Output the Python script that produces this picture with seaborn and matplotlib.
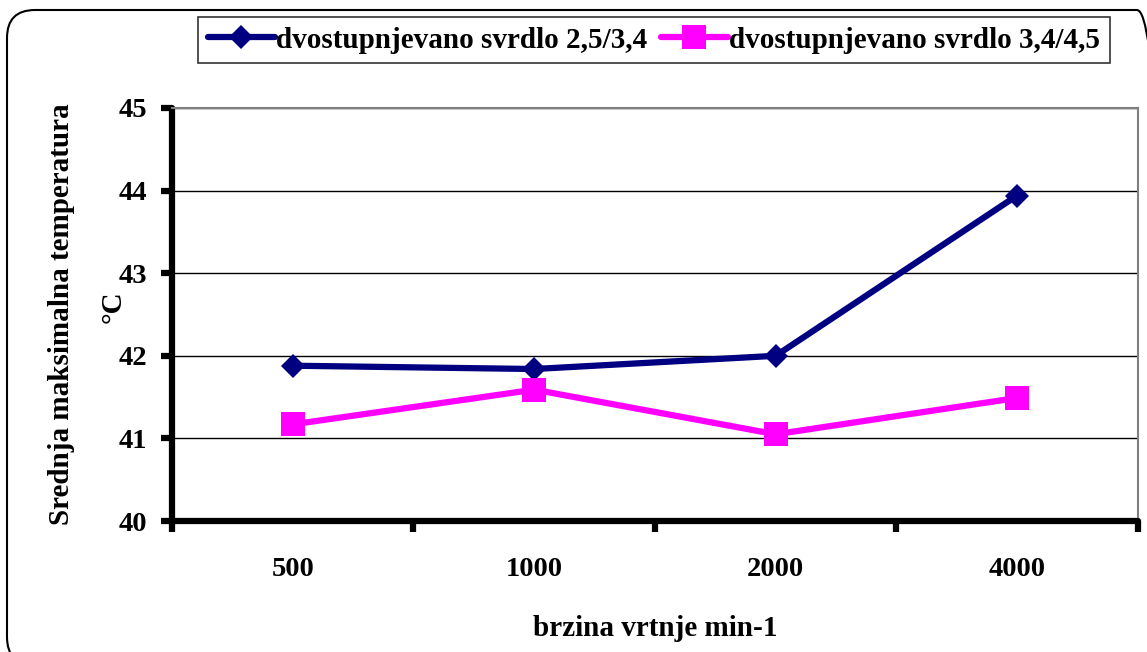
import matplotlib
matplotlib.use("Agg")
import matplotlib.pyplot as plt
from matplotlib.patches import FancyBboxPatch
from matplotlib.ticker import FixedLocator, NullFormatter, FixedFormatter
import seaborn as sns
import pandas as pd

# Rotation speed categories (min-1) and mean maximum temperatures (°C)
speeds = ["500", "1000", "2000", "4000"]
drill_25_34 = [41.88, 41.84, 42.00, 43.94]
drill_34_45 = [41.17, 41.59, 41.05, 41.49]
series_names = ["dvostupnjevano svrdlo 2,5/3,4", "dvostupnjevano svrdlo 3,4/4,5"]
y_ticks = [40, 41, 42, 43, 44, 45]

df = pd.DataFrame({
    "brzina": speeds * 2,
    "temperatura": drill_25_34 + drill_34_45,
    "svrdlo": [series_names[0]] * len(speeds) + [series_names[1]] * len(speeds),
})
df["pos"] = df["brzina"].map({s: i for i, s in enumerate(speeds)})

sns.set_theme(style="white")
plt.rcParams["font.family"] = ["Liberation Serif", "DejaVu Serif"]
plt.rcParams["font.weight"] = "bold"
plt.rcParams["text.color"] = "black"
plt.rcParams["axes.labelcolor"] = "black"
plt.rcParams["xtick.color"] = "black"
plt.rcParams["ytick.color"] = "black"

fig = plt.figure(figsize=(11.47, 6.52), dpi=100)
ax = fig.add_axes([0.15, 0.2009, 0.842, 0.6335])

styles = [
    dict(color="#000080", marker="D", markersize=12.5),
    dict(color="#FF00FF", marker="s", markersize=17.5),
]
for name, st in zip(series_names, styles):
    sub = df[df["svrdlo"] == name]
    sns.lineplot(data=sub, x="pos", y="temperatura", ax=ax, label=name,
                 color=st["color"], marker=st["marker"],
                 markersize=st["markersize"], markeredgewidth=0,
                 linewidth=4.5, sort=False, zorder=3)

ax.set_xlim(-0.5, len(speeds) - 0.5)
ax.set_ylim(y_ticks[0], y_ticks[-1])

# category boundaries carry the tick marks, category centres carry the labels
ax.xaxis.set_major_locator(FixedLocator([i - 0.5 for i in range(len(speeds) + 1)]))
ax.xaxis.set_major_formatter(NullFormatter())
ax.xaxis.set_minor_locator(FixedLocator(list(range(len(speeds)))))
ax.xaxis.set_minor_formatter(FixedFormatter(speeds))
ax.tick_params(axis="x", which="major", direction="out", length=8, width=4.5,
               color="black", bottom=True)
ax.tick_params(axis="x", which="minor", length=0, pad=26, labelsize=20.5,
               labelcolor="black", bottom=True)

ax.set_yticks(y_ticks)
ax.tick_params(axis="y", direction="out", length=8, width=4.5, color="black",
               pad=10, labelsize=20.5, labelcolor="black", left=True)

ax.grid(axis="y", color="black", linewidth=1.0)
ax.grid(axis="x", visible=False)
ax.set_axisbelow(True)

for side in ("left", "bottom"):
    ax.spines[side].set_color("black")
    ax.spines[side].set_linewidth(4.5)
    ax.spines[side].set_capstyle("round")
for side in ("top", "right"):
    ax.spines[side].set_color("#808080")
    ax.spines[side].set_linewidth(1.5)

ax.set_xlabel("brzina vrtnje min-1", fontsize=21, fontweight="bold",
              color="black")
ax.xaxis.set_label_coords(0.5, -0.228)

# two-line y-axis title: quantity on the outer line, unit beneath it
ax.set_ylabel("Srednja maksimalna temperatura", fontsize=21,
              fontweight="bold", color="black")
ax.yaxis.set_label_coords(-0.100, 0.5)
ax.text(-0.061, 0.52, "°C", transform=ax.transAxes, rotation=90,
        ha="center", va="center", fontsize=21, fontweight="bold",
        color="black")

for lbl in ax.get_xticklabels(minor=True) + ax.get_yticklabels():
    lbl.set_fontweight("bold")

handles, labels = ax.get_legend_handles_labels()
ax.get_legend().remove()
leg = fig.legend(handles, labels, loc="center", ncol=2,
                 bbox_to_anchor=(654 / 1147, 1 - 40 / 652),
                 frameon=True, fancybox=False, edgecolor="black",
                 prop={"size": 21, "weight": "bold"},
                 handlelength=2.3, handletextpad=0.05, columnspacing=0.45,
                 borderpad=0.32, borderaxespad=0)
leg.get_frame().set_linewidth(1.2)
for t in leg.get_texts():
    t.set_color("black")

# rounded outline around the whole chart area
outline = FancyBboxPatch((7, -13), 1158, 655,
                         boxstyle="round,pad=0,rounding_size=28",
                         transform=None, facecolor="none",
                         edgecolor="black", linewidth=1.5)
fig.patches.append(outline)

fig.savefig("out.png", dpi=100)
